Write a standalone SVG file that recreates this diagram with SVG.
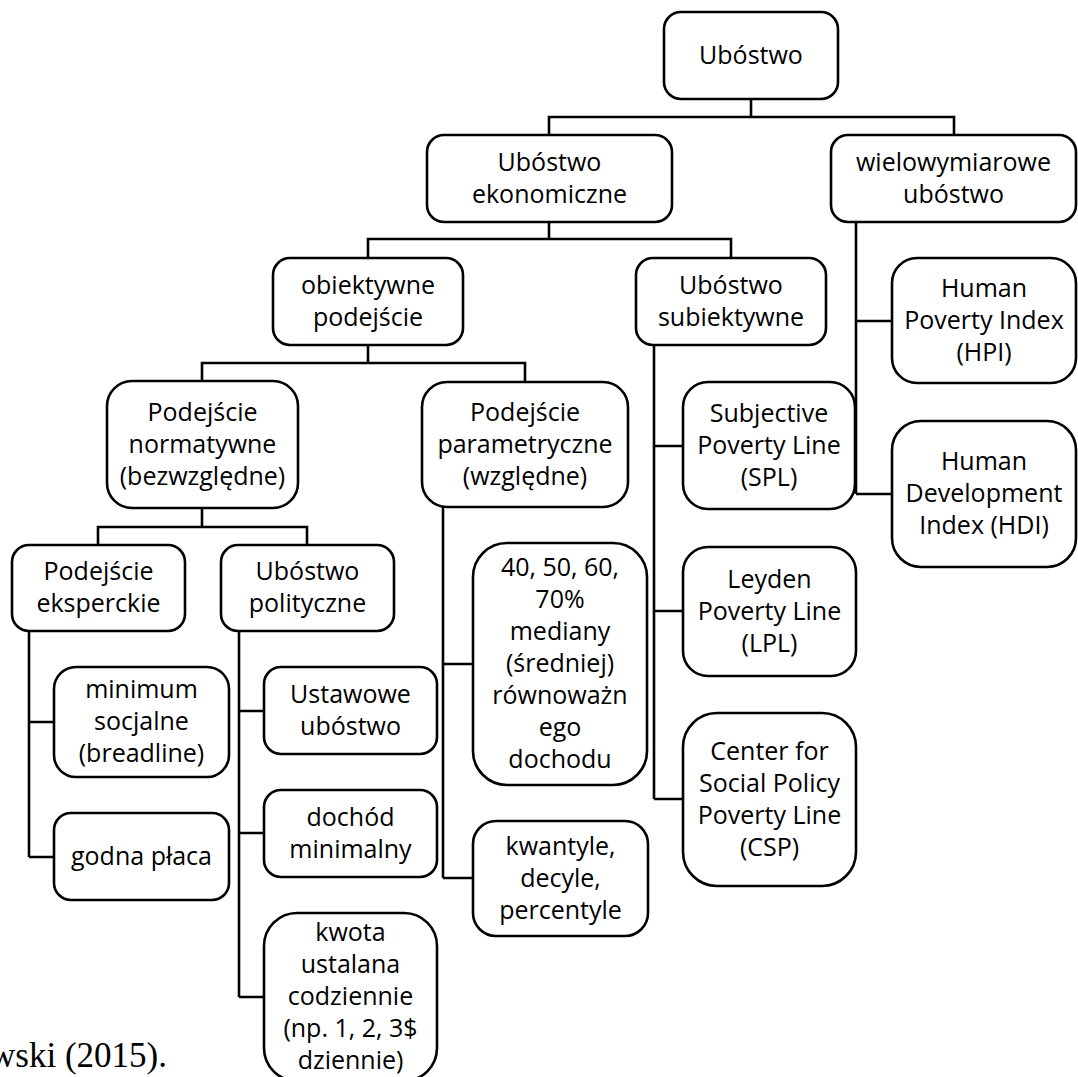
<svg xmlns="http://www.w3.org/2000/svg" width="1078" height="1077" viewBox="0 0 1078 1077">
<style>
.box{fill:#fff;stroke:#000;stroke-width:2.6}
.t{font-family:"Open Sans","Noto Sans",sans-serif;font-size:25px;fill:#000;text-anchor:middle}
.c{fill:none;stroke:#000;stroke-width:2.6}
.cap{font-family:"Liberation Serif","Times New Roman",serif;font-size:35px;fill:#000}
</style>
<rect width="1078" height="1077" fill="#fff"/>
<g id="connectors">
<path class="c" d="M751,99 V117 M549,135 V117 H954 V135"/>
<path class="c" d="M549,222 V239 M368,258 V239 H731 V258"/>
<path class="c" d="M368,345 V363 M202,381 V363 H525 V382"/>
<path class="c" d="M202,508 V527 M98,545 V527 H307 V545"/>
<path class="c" d="M856,222 V494 M856,321 H892 M856,494 H892"/>
<path class="c" d="M654,345 V799 M654,446 H683 M654,611 H683 M654,799 H683"/>
<path class="c" d="M443,507 V878 M443,664 H473 M443,878 H473"/>
<path class="c" d="M29,631 V857 M29,722 H54 M29,857 H54"/>
<path class="c" d="M239,631 V997 M239,711 H264 M239,833 H264 M239,997 H264"/>
</g>
<g id="n_root"><rect class="box" x="664" y="12" width="174" height="87" rx="17"/><text class="t"><tspan x="751" y="63.5">Ubóstwo</tspan></text></g>
<g id="n_ekon"><rect class="box" x="427" y="135" width="245" height="87" rx="17"/><text class="t"><tspan x="549.5" y="170.5">Ubóstwo</tspan><tspan x="549.5" y="202.5">ekonomiczne</tspan></text></g>
<g id="n_wiel"><rect class="box" x="831" y="135" width="245" height="87" rx="17"/><text class="t"><tspan x="953.5" y="170.5">wielowymiarowe</tspan><tspan x="953.5" y="202.5">ubóstwo</tspan></text></g>
<g id="n_obiek"><rect class="box" x="273" y="258" width="190" height="87" rx="17"/><text class="t"><tspan x="368" y="293.5">obiektywne</tspan><tspan x="368" y="325.5">podejście</tspan></text></g>
<g id="n_subiek"><rect class="box" x="636" y="258" width="190" height="87" rx="17"/><text class="t"><tspan x="731" y="293.5">Ubóstwo</tspan><tspan x="731" y="325.5">subiektywne</tspan></text></g>
<g id="n_hpi"><rect class="box" x="892" y="258" width="184" height="125" rx="25"/><text class="t"><tspan x="984" y="296.5">Human</tspan><tspan x="984" y="328.5">Poverty Index</tspan><tspan x="984" y="360.5">(HPI)</tspan></text></g>
<g id="n_norm"><rect class="box" x="107" y="381" width="191" height="127" rx="25"/><text class="t"><tspan x="202.5" y="420.5">Podejście</tspan><tspan x="202.5" y="452.5">normatywne</tspan><tspan x="202.5" y="484.5">(bezwzględne)</tspan></text></g>
<g id="n_param"><rect class="box" x="422" y="382" width="206" height="125" rx="25"/><text class="t"><tspan x="525" y="420.5">Podejście</tspan><tspan x="525" y="452.5">parametryczne</tspan><tspan x="525" y="484.5">(względne)</tspan></text></g>
<g id="n_spl"><rect class="box" x="683" y="382" width="172" height="127" rx="25"/><text class="t"><tspan x="769" y="421.5">Subjective</tspan><tspan x="769" y="453.5">Poverty Line</tspan><tspan x="769" y="485.5">(SPL)</tspan></text></g>
<g id="n_hdi"><rect class="box" x="892" y="421" width="184" height="146" rx="29"/><text class="t"><tspan x="984" y="470">Human</tspan><tspan x="984" y="502">Development</tspan><tspan x="984" y="534">Index (HDI)</tspan></text></g>
<g id="n_eksp"><rect class="box" x="12" y="545" width="173" height="86" rx="17"/><text class="t"><tspan x="98.5" y="580">Podejście</tspan><tspan x="98.5" y="612">eksperckie</tspan></text></g>
<g id="n_polit"><rect class="box" x="221" y="545" width="173" height="86" rx="17"/><text class="t"><tspan x="307.5" y="580">Ubóstwo</tspan><tspan x="307.5" y="612">polityczne</tspan></text></g>
<g id="n_median"><rect class="box" x="473" y="543" width="174" height="242" rx="34"/><text class="t"><tspan x="560" y="576">40, 50, 60,</tspan><tspan x="560" y="608">70%</tspan><tspan x="560" y="640">mediany</tspan><tspan x="560" y="672">(średniej)</tspan><tspan x="560" y="704">równoważn</tspan><tspan x="560" y="736">ego</tspan><tspan x="560" y="768">dochodu</tspan></text></g>
<g id="n_leyden"><rect class="box" x="683" y="547" width="173" height="129" rx="25"/><text class="t"><tspan x="769.5" y="587.5">Leyden</tspan><tspan x="769.5" y="619.5">Poverty Line</tspan><tspan x="769.5" y="651.5">(LPL)</tspan></text></g>
<g id="n_min"><rect class="box" x="54" y="667" width="175" height="110" rx="22"/><text class="t"><tspan x="141.5" y="698">minimum</tspan><tspan x="141.5" y="730">socjalne</tspan><tspan x="141.5" y="762">(breadline)</tspan></text></g>
<g id="n_ustaw"><rect class="box" x="264" y="667" width="173" height="87" rx="17"/><text class="t"><tspan x="350.5" y="702.5">Ustawowe</tspan><tspan x="350.5" y="734.5">ubóstwo</tspan></text></g>
<g id="n_csp"><rect class="box" x="683" y="713" width="173" height="173" rx="34"/><text class="t"><tspan x="769.5" y="759.5">Center for</tspan><tspan x="769.5" y="791.5">Social Policy</tspan><tspan x="769.5" y="823.5">Poverty Line</tspan><tspan x="769.5" y="855.5">(CSP)</tspan></text></g>
<g id="n_godna"><rect class="box" x="54" y="813" width="175" height="87" rx="17"/><text class="t"><tspan x="141.5" y="864.5">godna płaca</tspan></text></g>
<g id="n_dochod"><rect class="box" x="264" y="790" width="173" height="87" rx="17"/><text class="t"><tspan x="350.5" y="825.5">dochód</tspan><tspan x="350.5" y="857.5">minimalny</tspan></text></g>
<g id="n_kwant"><rect class="box" x="473" y="821" width="175" height="115" rx="23"/><text class="t"><tspan x="560.5" y="854.5">kwantyle,</tspan><tspan x="560.5" y="886.5">decyle,</tspan><tspan x="560.5" y="918.5">percentyle</tspan></text></g>
<g id="n_kwota"><rect class="box" x="264" y="913" width="173" height="168" rx="33"/><text class="t"><tspan x="350.5" y="941">kwota</tspan><tspan x="350.5" y="973">ustalana</tspan><tspan x="350.5" y="1005">codziennie</tspan><tspan x="350.5" y="1037">(np. 1, 2, 3$</tspan><tspan x="350.5" y="1069">dziennie)</tspan></text></g>
<text class="cap" x="167" y="1067" text-anchor="end">wski (2015).</text>
</svg>
